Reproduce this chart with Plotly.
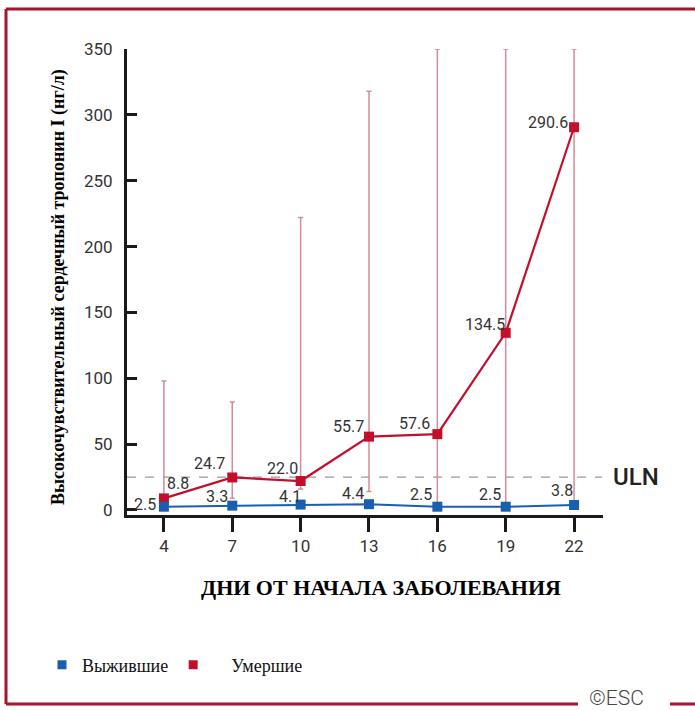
import plotly.graph_objects as go

# ---- data ----
days = [4, 7, 10, 13, 16, 19, 22]
survivors = [2.5, 3.3, 4.1, 4.4, 2.5, 2.5, 3.8]
deceased = [8.8, 24.7, 22.0, 55.7, 57.6, 134.5, 290.6]
deceased_high = [98, 82, 222, 318, 350, 350, 350]
deceased_low = [3, 9, 16, 14, 5, 5, 5]
uln_value = 25
y_ticks = [0, 50, 100, 150, 200, 250, 300, 350]
survivor_label_fmt = [f"{v:.1f}" for v in survivors]
deceased_label_fmt = [f"{v:.1f}" for v in deceased]

# ---- style ----
RED = "#c20f2c"
BLUE = "#1a5eaf"
ERR = "#d88a98"
BORDER = "#a3162c"
TXT = "#333333"
NARROW = "Liberation Sans Narrow, Roboto, sans-serif"
SERIF = "Liberation Serif, Times New Roman, serif"

W, H = 695, 711
PL, PR, PT, PB = 127, 603, 49, 515


def px(x):
    return (x - PL) / (PR - PL)


def py(y):
    return (PB - y) / (PB - PT)


fig = go.Figure()

fig.add_trace(go.Scatter(
    x=days, y=deceased, mode="lines+markers", name="Умершие",
    line=dict(color=RED, width=2.2),
    marker=dict(symbol="square", size=10, color=RED),
    error_y=dict(type="data", symmetric=False,
                 array=[h - v for h, v in zip(deceased_high, deceased)],
                 arrayminus=[v - l for v, l in zip(deceased, deceased_low)],
                 color=ERR, thickness=1.5, width=2.5),
    showlegend=False, cliponaxis=False,
))
fig.add_trace(go.Scatter(
    x=days, y=survivors, mode="lines+markers", name="Выжившие",
    line=dict(color=BLUE, width=2),
    marker=dict(symbol="square", size=10, color=BLUE),
    showlegend=False, cliponaxis=False,
))

# legend entries (markers only)
fig.add_trace(go.Scatter(x=[None], y=[None], mode="markers", name="Выжившие",
                         marker=dict(symbol="square", size=9, color=BLUE)))
fig.add_trace(go.Scatter(x=[None], y=[None], mode="markers",
                         name="\u00a0\u00a0\u00a0\u00a0Умершие",
                         marker=dict(symbol="square", size=9, color=RED)))

# data labels
red_offsets = [(14, 15), (-23, 14), (-18, 13), (-20, 10), (-23, 11), (-21, 8), (-26, 5)]
blue_offsets = [(-19, 2), (-15, 9), (-11, 8), (-16, 11), (-16, 12), (-16, 12), (-12, 14)]
for d, v, t, (dx, dy) in zip(days, deceased, deceased_label_fmt, red_offsets):
    fig.add_annotation(x=d, y=v, text=t, showarrow=False, xshift=dx, yshift=dy,
                       font=dict(family=NARROW, size=16, color=TXT))
for d, v, t, (dx, dy) in zip(days, survivors, survivor_label_fmt, blue_offsets):
    fig.add_annotation(x=d, y=v, text=t, showarrow=False, xshift=dx, yshift=dy,
                       font=dict(family=NARROW, size=16, color=TXT))

# ULN
fig.add_shape(type="line", xref="paper", yref="y", x0=0, x1=px(602), y0=uln_value, y1=uln_value,
              line=dict(color="#9a9a9a", width=1.2, dash="dash"), layer="below")
fig.add_annotation(xref="paper", yref="y", x=px(611), y=uln_value, text="ULN", showarrow=False,
                   xanchor="left", yanchor="middle",
                   font=dict(family="Roboto, sans-serif", size=24, color="#222222", weight=500))

# axis titles
fig.add_annotation(xref="paper", yref="paper", x=px(381), y=py(587), text="ДНИ ОТ НАЧАЛА ЗАБОЛЕВАНИЯ",
                   showarrow=False, xanchor="center", yanchor="middle",
                   font=dict(family=SERIF, size=22, color="#000000", weight="bold"))
fig.add_annotation(xref="paper", yref="paper", x=px(58), y=py(287),
                   text="Высокочувствительный сердечный тропонин I (нг/л)",
                   textangle=-90, showarrow=False, xanchor="center", yanchor="middle",
                   font=dict(family=SERIF, size=18, color="#000000", weight="bold"))

# ©ESC
fig.add_annotation(xref="paper", yref="paper", x=px(616), y=py(698), text="©ESC", showarrow=False,
                   xanchor="center", yanchor="middle",
                   font=dict(family="Roboto, sans-serif", size=21, color="#444444", weight=300))

# border
for (x0, y0, x1, y1) in [(6, 9, 6, 704), (6, 9, 700, 9), (6, 704, 578, 704), (670, 704, 700, 704)]:
    fig.add_shape(type="line", xref="paper", yref="paper", x0=px(x0), y0=py(y0), x1=px(x1), y1=py(y1),
                  line=dict(color=BORDER, width=3))

fig.update_layout(
    width=W, height=H,
    margin=dict(l=PL, r=W - PR, t=PT, b=H - PB, pad=0),
    plot_bgcolor="white", paper_bgcolor="white",
    showlegend=True,
    legend=dict(orientation="h", x=px(42), y=py(665), xanchor="left", yanchor="middle",
                font=dict(family=SERIF, size=18, color="#111111"), itemwidth=30,
                bgcolor="rgba(0,0,0,0)"),
    xaxis=dict(range=[2.38, 23.27], tickvals=days, ticktext=[str(d) for d in days],
               showgrid=False, zeroline=False, showline=True, linecolor="#1a1a1a", linewidth=3,
               ticks="outside", ticklen=14, tickwidth=3, tickcolor="#1a1a1a",
               tickfont=dict(family=NARROW, size=17, color=TXT)),
    yaxis=dict(range=[-3.8, 350], tickvals=y_ticks, showgrid=False, zeroline=False,
               showline=True, linecolor="#1a1a1a", linewidth=3,
               ticks="inside", ticklen=10, tickwidth=3, tickcolor="#1a1a1a",
               ticklabelstandoff=8,
               tickfont=dict(family=NARROW, size=17, color=TXT)),
)

fig.write_html("out.html", config={"displayModeBar": False},
               post_script="document.body.style.margin='0px';")
